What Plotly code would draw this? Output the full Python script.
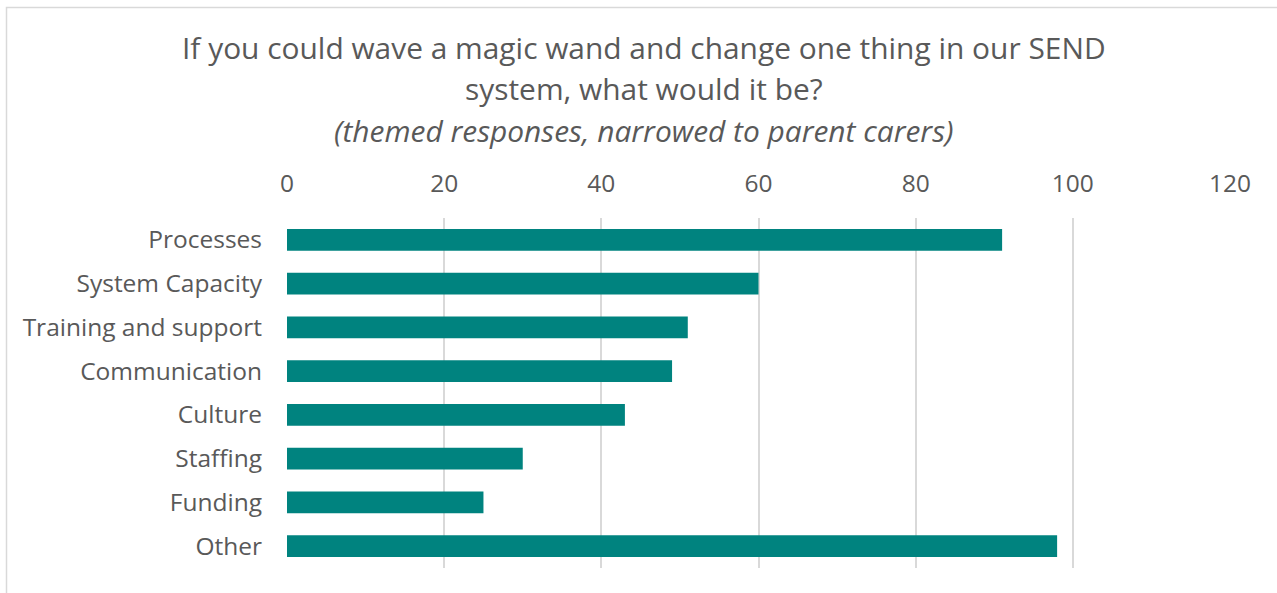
import plotly.graph_objects as go

# Themed responses from parent carers
themes = ["Processes", "System Capacity", "Training and support", "Communication",
          "Culture", "Staffing", "Funding", "Other"]
counts = [91, 60, 51, 49, 43, 30, 25, 98]

x_ticks = [0, 20, 40, 60, 80, 100, 120]

TEXT = "#595959"
GRID = "#D9D9D9"
TEAL = "#00837F"
FONT = "Open Sans"

W, H = 1277, 593
L, R, T, B = 287, 47, 218, 25
pw, ph = W - L - R, H - T - B


def px_x(px):
    return (px - L) / pw


def px_y(py):
    return (H - B - py) / ph


fig = go.Figure(
    go.Bar(
        x=counts,
        y=themes,
        orientation="h",
        width=0.5,
        marker=dict(color=TEAL, line=dict(width=0)),
        hoverinfo="x+y",
    )
)

title_lines = [
    ("If you could wave a magic wand and change one thing in our SEND", 48),
    ("system, what would it be?", 88),
    ("<i>(themed responses, narrowed to parent carers)</i>", 130),
]
for text, cy in title_lines:
    fig.add_annotation(
        text=text, xref="paper", yref="paper",
        x=px_x(644), y=px_y(cy), xanchor="center", yanchor="middle",
        showarrow=False, font=dict(family=FONT, size=29.9, color=TEXT),
    )

# Chart-area frame
fig.add_shape(
    type="rect", xref="paper", yref="paper",
    x0=px_x(6.5), x1=px_x(W + 20), y0=px_y(H + 20), y1=px_y(7.5),
    line=dict(color=GRID, width=1.5), layer="below",
)

fig.update_layout(
    width=W, height=H,
    margin=dict(l=L, r=R, t=T, b=B, pad=0),
    paper_bgcolor="white", plot_bgcolor="white",
    font=dict(family=FONT, color=TEXT, size=24.5),
    showlegend=False,
    bargap=0.5,
)
fig.update_xaxes(
    side="top", range=[0, 120], tickvals=x_ticks,
    showgrid=True, gridcolor=GRID, gridwidth=1.5,
    zeroline=False, showline=False, ticks="",
    tickfont=dict(family=FONT, size=24.5, color=TEXT),
    ticklabelstandoff=20, fixedrange=True,
)
fig.update_yaxes(
    categoryorder="array", categoryarray=themes, autorange="reversed",
    showgrid=False, zeroline=False, showline=False, ticks="",
    tickfont=dict(family=FONT, size=24.5, color=TEXT),
    ticklabelstandoff=24, fixedrange=True,
)

fig.write_html("out.html")
